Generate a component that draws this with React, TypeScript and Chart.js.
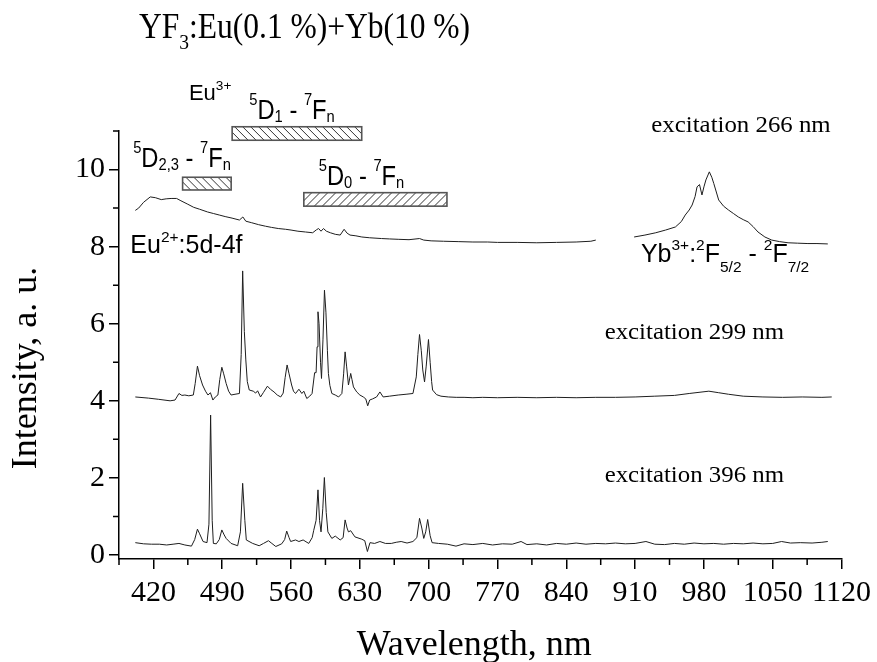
import React, { useEffect, useRef } from "react";
import { Chart, registerables } from "chart.js";

Chart.register(...registerables);

// ---------- axes ----------
const xTicks = [420, 490, 560, 630, 700, 770, 840, 910, 980, 1050, 1120];
const xMinorTicks = [385, 455, 525, 595, 665, 735, 805, 875, 945, 1015, 1085];
const yTicks = [0, 2, 4, 6, 8, 10];
const yMinorTicks = [1, 3, 5, 7, 9, 11];

// ---------- spectra [wavelength nm, intensity a.u.] ----------
const ex266Visible: [number, number][] = [
  [401.6, 8.94], [405, 9.0], [410, 9.15], [416.8, 9.29], [422, 9.27], [428, 9.22], [433, 9.24],
  [438, 9.25], [443.6, 9.25], [448, 9.19], [455, 9.1], [461, 9.02], [467, 8.97], [475, 8.9],
  [481, 8.86], [487, 8.82], [493, 8.78], [500, 8.74], [507.5, 8.69], [511, 8.77], [514, 8.66],
  [520, 8.62], [527, 8.57], [534, 8.53], [540, 8.5], [547, 8.47], [554.5, 8.45], [560, 8.43],
  [567, 8.4], [574.7, 8.38], [582, 8.36], [586, 8.44], [588, 8.47], [590.5, 8.4], [593, 8.47],
  [596, 8.4], [600, 8.36], [605, 8.32], [610, 8.3], [614, 8.45], [617, 8.35], [620, 8.3],
  [626, 8.28], [632, 8.25], [640, 8.23], [652, 8.21], [660, 8.2], [669, 8.19], [680, 8.18],
  [690.7, 8.21], [695, 8.17], [702.5, 8.15], [715, 8.14], [730, 8.13], [745, 8.12], [760, 8.12],
  [770, 8.11], [790, 8.11], [810, 8.1], [830, 8.11], [850, 8.12], [865, 8.14], [870, 8.17],
];

const ex266Yb: [number, number][] = [
  [909, 8.25], [920, 8.3], [931, 8.36], [941, 8.43], [951, 8.51], [957, 8.65], [961, 8.82],
  [965, 8.95], [968, 9.08], [971, 9.3], [973, 9.55], [975.5, 9.61], [978, 9.34], [980, 9.55],
  [982, 9.73], [985.5, 9.94], [988, 9.8], [990, 9.64], [995, 9.21], [1000, 9.05], [1005, 8.95],
  [1010, 8.86], [1015, 8.77], [1020, 8.7], [1025, 8.64], [1030, 8.52], [1035, 8.38],
  [1042, 8.25], [1049, 8.17], [1057, 8.13], [1065.6, 8.1], [1075, 8.09], [1085.8, 8.08],
  [1095, 8.08], [1106, 8.07],
];

const ex299: [number, number][] = [
  [401.6, 4.1], [415, 4.07], [425, 4.04], [437, 4.0], [442, 4.02], [446, 4.19], [449, 4.14],
  [452, 4.15], [456, 4.13], [460.6, 4.15], [462.5, 4.45], [464.8, 4.9], [467, 4.65], [470, 4.41],
  [473, 4.25], [475.5, 4.15], [478, 4.21], [480.5, 4.02], [483, 4.1], [485.6, 4.15], [487.5, 4.55],
  [489.6, 4.87], [491.5, 4.7], [494, 4.45], [496.5, 4.25], [499, 4.15], [503, 4.17], [507.5, 4.19],
  [509.3, 5.2], [510.8, 7.37], [512.5, 5.8], [514, 5.06], [515.5, 4.5], [517.5, 4.28], [521.6, 4.25],
  [524, 4.2], [526, 4.26], [529, 4.1], [532, 4.22], [536, 4.38], [539, 4.3], [542.7, 4.23],
  [546, 4.15], [549.5, 4.1], [552, 4.2], [554, 4.6], [556, 4.93], [558, 4.7], [560.6, 4.41],
  [562.5, 4.25], [564.6, 4.19], [568, 4.3], [571, 4.19], [573, 4.25], [576, 4.06], [579, 4.12],
  [581.4, 4.19], [584, 4.73], [585.5, 4.73], [586.5, 5.4], [587.4, 6.31], [588.5, 6.0], [590, 5.0],
  [591, 4.58], [592.5, 5.6], [594, 6.87], [595.5, 6.3], [597, 5.3], [598, 4.71], [599.5, 4.4],
  [601.5, 4.19], [605, 4.15], [608.4, 4.1], [611.7, 4.19], [613.5, 4.7], [615, 5.27], [616.5, 4.9],
  [618.4, 4.41], [620.7, 4.71], [622, 4.55], [623.5, 4.36], [626.8, 4.23], [630, 4.15],
  [633.5, 4.1], [636, 4.05], [638, 3.87], [640, 4.02], [643, 4.05], [647, 4.1], [650.4, 4.23],
  [653.7, 4.1], [660, 4.12], [669, 4.15], [677, 4.17], [684, 4.19], [687.4, 4.62], [689, 5.2],
  [690.7, 5.72], [692.5, 5.3], [694, 4.8], [695.8, 4.49], [697.5, 4.9], [699.8, 5.59], [701.5, 5.0],
  [703, 4.5], [704, 4.28], [708, 4.16], [712.5, 4.12], [720, 4.1], [728, 4.09], [736, 4.09],
  [745, 4.08], [755, 4.09], [770, 4.08], [790, 4.09], [810, 4.08], [830, 4.09], [850, 4.08],
  [870, 4.09], [890, 4.09], [910, 4.1], [930, 4.12], [950, 4.14], [965, 4.19], [975, 4.22],
  [985, 4.25], [995, 4.21], [1005, 4.17], [1020, 4.12], [1040, 4.1], [1060, 4.09], [1080, 4.1],
  [1100, 4.09], [1110, 4.1],
];

const ex396: [number, number][] = [
  [401.6, 0.32], [410, 0.29], [418, 0.28], [426, 0.28], [433.5, 0.26], [440, 0.28], [446, 0.3],
  [452, 0.26], [458.7, 0.23], [462, 0.4], [464.8, 0.67], [467, 0.55], [470.5, 0.35], [474.5, 0.32],
  [476.5, 0.8], [478.2, 3.63], [479.8, 0.9], [481, 0.3], [484, 0.29], [487, 0.4], [489.6, 0.65],
  [492, 0.52], [494, 0.43], [499, 0.3], [505.7, 0.24], [508.5, 0.6], [510.8, 1.86], [513, 0.9],
  [514.5, 0.39], [521, 0.3], [527.6, 0.24], [532, 0.3], [537, 0.37], [540.5, 0.3], [544.5, 0.22],
  [550.5, 0.29], [553.5, 0.4], [555.6, 0.62], [558, 0.45], [559.6, 0.35], [564.6, 0.39],
  [568, 0.35], [572.3, 0.39], [578, 0.3], [581.5, 0.45], [583, 0.63], [585.5, 0.9], [587.4, 1.69],
  [589, 0.9], [590.5, 0.6], [592.3, 1.2], [593.9, 2.01], [595.8, 1.1], [597.5, 0.6], [601.5, 0.43],
  [605, 0.49], [610, 0.39], [613, 0.45], [615, 0.91], [617, 0.7], [618.4, 0.6], [620.7, 0.63],
  [625, 0.47], [631.9, 0.41], [635, 0.37], [637.7, 0.09], [640.3, 0.32], [645, 0.3], [650.4, 0.35],
  [656, 0.3], [662, 0.3], [667, 0.33], [672, 0.35], [678, 0.31], [684, 0.35], [688, 0.45],
  [690.7, 0.95], [693, 0.7], [695, 0.43], [697, 0.6], [699, 0.92], [701.5, 0.5], [703.5, 0.32],
  [710, 0.3], [719, 0.28], [727.8, 0.23], [736, 0.29], [745, 0.27], [755, 0.3], [765, 0.26],
  [775, 0.29], [785, 0.28], [794, 0.35], [800, 0.27], [810, 0.29], [820, 0.26], [830, 0.3],
  [840, 0.28], [850, 0.31], [860, 0.28], [870, 0.3], [880, 0.29], [890, 0.31], [900, 0.29],
  [910, 0.3], [921, 0.35], [930, 0.28], [940, 0.27], [950, 0.3], [960, 0.28], [970, 0.31],
  [980, 0.29], [990, 0.3], [1000, 0.28], [1010, 0.3], [1020, 0.29], [1030, 0.31], [1040, 0.29],
  [1050, 0.3], [1059, 0.35], [1068, 0.31], [1078, 0.32], [1090, 0.31], [1100, 0.33], [1106, 0.35],
];

// ---------- hatched transition bands: [xStart, xEnd, yBottom, yTop] ----------
const bandD23: [number, number, number, number] = [449.7, 499.1, 9.47, 9.8];
const bandD1: [number, number, number, number] = [500.1, 631.9, 10.76, 11.11];
const bandD0: [number, number, number, number] = [573.0, 718.6, 9.05, 9.4];

// ---------- text ----------
type Part = [string, "n" | "sup" | "sub"];
const titleText: Part[] = [["YF", "n"], ["3", "sub"], [":Eu(0.1 %)+Yb(10 %)", "n"]];
const labelEu3: Part[] = [["Eu", "n"], ["3+", "sup"]];
const labelD1: Part[] = [["5", "sup"], ["D", "n"], ["1", "sub"], [" - ", "n"], ["7", "sup"], ["F", "n"], ["n", "sub"]];
const labelD23: Part[] = [["5", "sup"], ["D", "n"], ["2,3", "sub"], [" - ", "n"], ["7", "sup"], ["F", "n"], ["n", "sub"]];
const labelD0: Part[] = [["5", "sup"], ["D", "n"], ["0", "sub"], [" - ", "n"], ["7", "sup"], ["F", "n"], ["n", "sub"]];
const labelEu2: Part[] = [["Eu", "n"], ["2+", "sup"], [":5d-4f", "n"]];
const labelYb: Part[] = [["Yb", "n"], ["3+", "sup"], [":", "n"], ["2", "sup"], ["F", "n"], ["5/2", "sub"], [" - ", "n"], ["2", "sup"], ["F", "n"], ["7/2", "sub"]];
const excitationLabels = ["excitation 266 nm", "excitation 299 nm", "excitation 396 nm"];
const xTitle = "Wavelength, nm";
const yTitle = "Intensity, a. u.";

const SERIF = "'Liberation Serif', 'Times New Roman', serif";
const SANS = "'Liberation Sans', Arial, sans-serif";

function drawRich(
  ctx: CanvasRenderingContext2D,
  parts: Part[],
  x: number,
  y: number,
  size: number,
  family: string,
  sx: number,
  supOff: number,
  subOff: number
) {
  ctx.save();
  ctx.translate(x, y);
  ctx.scale(sx, 1);
  ctx.textAlign = "left";
  ctx.textBaseline = "alphabetic";
  ctx.fillStyle = "#000";
  let cx = 0;
  for (const [t, m] of parts) {
    const fs = m === "n" ? size : size * 0.62;
    const dy = m === "sup" ? -size * supOff : m === "sub" ? size * subOff : 0;
    ctx.font = `${fs}px ${family}`;
    ctx.fillText(t, cx, dy);
    cx += ctx.measureText(t).width;
  }
  ctx.restore();
}

function drawBand(chart: any, band: [number, number, number, number], dir: "back" | "fwd") {
  const ctx: CanvasRenderingContext2D = chart.ctx;
  const xs = chart.scales.x;
  const ys = chart.scales.y;
  const x0 = xs.getPixelForValue(band[0]);
  const x1 = xs.getPixelForValue(band[1]);
  const yT = ys.getPixelForValue(band[3]);
  const yB = ys.getPixelForValue(band[2]);
  const w = x1 - x0;
  const h = yB - yT;
  ctx.save();
  ctx.beginPath();
  ctx.rect(x0, yT, w, h);
  ctx.clip();
  ctx.strokeStyle = "#333";
  ctx.lineWidth = 1;
  ctx.beginPath();
  const step = 8;
  for (let x = x0 - h - step; x < x1 + step; x += step) {
    if (dir === "back") {
      ctx.moveTo(x, yT);
      ctx.lineTo(x + h, yB);
    } else {
      ctx.moveTo(x, yB);
      ctx.lineTo(x + h, yT);
    }
  }
  ctx.stroke();
  ctx.restore();
  ctx.save();
  ctx.strokeStyle = "#555";
  ctx.lineWidth = 1.6;
  ctx.strokeRect(x0, yT, w, h);
  ctx.restore();
}

const decorPlugin = {
  id: "decor",
  afterDraw(chart: any) {
    const ctx: CanvasRenderingContext2D = chart.ctx;
    const xs = chart.scales.x;
    const ys = chart.scales.y;
    const area = chart.chartArea;
    ctx.save();
    // minor ticks
    ctx.strokeStyle = "#000";
    ctx.lineWidth = 1.5;
    ctx.beginPath();
    for (const v of xMinorTicks) {
      const px = xs.getPixelForValue(v);
      ctx.moveTo(px, area.bottom);
      ctx.lineTo(px, area.bottom + 6);
    }
    for (const v of yMinorTicks) {
      const py = ys.getPixelForValue(v);
      ctx.moveTo(area.left, py);
      ctx.lineTo(area.left - 6, py);
    }
    ctx.stroke();

    // bands
    drawBand(chart, bandD23, "back");
    drawBand(chart, bandD1, "back");
    drawBand(chart, bandD0, "fwd");

    const X = (v: number) => xs.getPixelForValue(v);
    const Y = (v: number) => ys.getPixelForValue(v);

    // annotation labels
    drawRich(ctx, labelEu3, X(456.1), Y(11.8), 22, SANS, 1, 0.48, 0.15);
    drawRich(ctx, labelD1, X(517.5), Y(11.32), 27, SANS, 0.88, 0.5, 0.12);
    drawRich(ctx, labelD23, X(399.4), Y(10.07), 27, SANS, 0.88, 0.5, 0.12);
    drawRich(ctx, labelD0, X(588.2), Y(9.6), 27, SANS, 0.88, 0.5, 0.12);
    drawRich(ctx, labelEu2, X(396.5), Y(7.84), 25, SANS, 1, 0.45, 0.15);
    drawRich(ctx, labelYb, X(915.9), Y(7.59), 25, SANS, 1, 0.48, 0.38);

    drawRich(ctx, [[excitationLabels[0], "n"]], X(926.5), Y(10.98), 23, SERIF, 1.08, 0, 0);
    drawRich(ctx, [[excitationLabels[1], "n"]], X(879), Y(5.6), 23, SERIF, 1.08, 0, 0);
    drawRich(ctx, [[excitationLabels[2], "n"]], X(879), Y(1.9), 23, SERIF, 1.08, 0, 0);

    // title
    drawRich(ctx, titleText, 139, 38, 35, SERIF, 0.9, 0, 0.3);

    // axis titles
    ctx.fillStyle = "#000";
    ctx.font = `36px ${SERIF}`;
    ctx.textAlign = "center";
    ctx.textBaseline = "alphabetic";
    ctx.fillText(xTitle, (area.left + area.right) / 2 - 6, 655);
    ctx.save();
    ctx.translate(35.5, (area.top + area.bottom) / 2 + 23);
    ctx.rotate(-Math.PI / 2);
    ctx.fillText(yTitle, 0, 0);
    ctx.restore();

    ctx.restore();
  },
};

const lineStyle = {
  borderColor: "#1e1e1e",
  borderWidth: 1,
  pointRadius: 0,
  tension: 0,
  fill: false,
};

export default function App() {
  const ref = useRef<HTMLCanvasElement | null>(null);

  useEffect(() => {
    if (!ref.current) return;
    const toXY = (arr: [number, number][]) => arr.map(([x, y]) => ({ x, y }));
    const chart = new Chart(ref.current, {
      type: "line",
      data: {
        datasets: [
          { label: "266 nm", data: toXY(ex266Visible), ...lineStyle },
          { label: "266 nm Yb", data: toXY(ex266Yb), ...lineStyle },
          { label: "299 nm", data: toXY(ex299), ...lineStyle },
          { label: "396 nm", data: toXY(ex396), ...lineStyle },
        ] as any,
      },
      options: {
        animation: false,
        responsive: false,
        maintainAspectRatio: false,
        devicePixelRatio: 1,
        layout: { padding: { top: 131, right: 30, left: 0, bottom: 0 } },
        plugins: {
          legend: { display: false },
          tooltip: { enabled: false },
          title: { display: false },
        },
        scales: {
          x: {
            type: "linear",
            min: 385,
            max: 1120,
            afterBuildTicks: (scale: any) => {
              scale.ticks = xTicks.map((v) => ({ value: v }));
            },
            afterFit: (scale: any) => {
              scale.height = 103;
            },
            ticks: {
              autoSkip: false,
              maxRotation: 0,
              padding: 6,
              color: "#000",
              font: { family: SERIF, size: 30 },
              callback: (v: any) => String(v),
            },
            grid: { drawOnChartArea: false, color: "#000", lineWidth: 1.5, tickLength: 10 },
            border: { display: true, color: "#000", width: 1.5 },
          },
          y: {
            type: "linear",
            min: -0.104,
            max: 11,
            afterBuildTicks: (scale: any) => {
              scale.ticks = yTicks.map((v) => ({ value: v }));
            },
            afterFit: (scale: any) => {
              scale.width = 119;
            },
            ticks: {
              autoSkip: false,
              padding: 4,
              color: "#000",
              font: { family: SERIF, size: 30 },
              callback: (v: any) => String(v),
            },
            grid: { drawOnChartArea: false, color: "#000", lineWidth: 1.5, tickLength: 10 },
            border: { display: true, color: "#000", width: 1.5 },
          },
        },
      } as any,
      plugins: [decorPlugin],
    });
    return () => chart.destroy();
  }, []);

  return (
    <div style={{ position: "fixed", left: 0, top: 0, width: 877, height: 662, background: "#fff" }}>
      <canvas ref={ref} width={877} height={662} style={{ display: "block", width: 877, height: 662 }} />
    </div>
  );
}
